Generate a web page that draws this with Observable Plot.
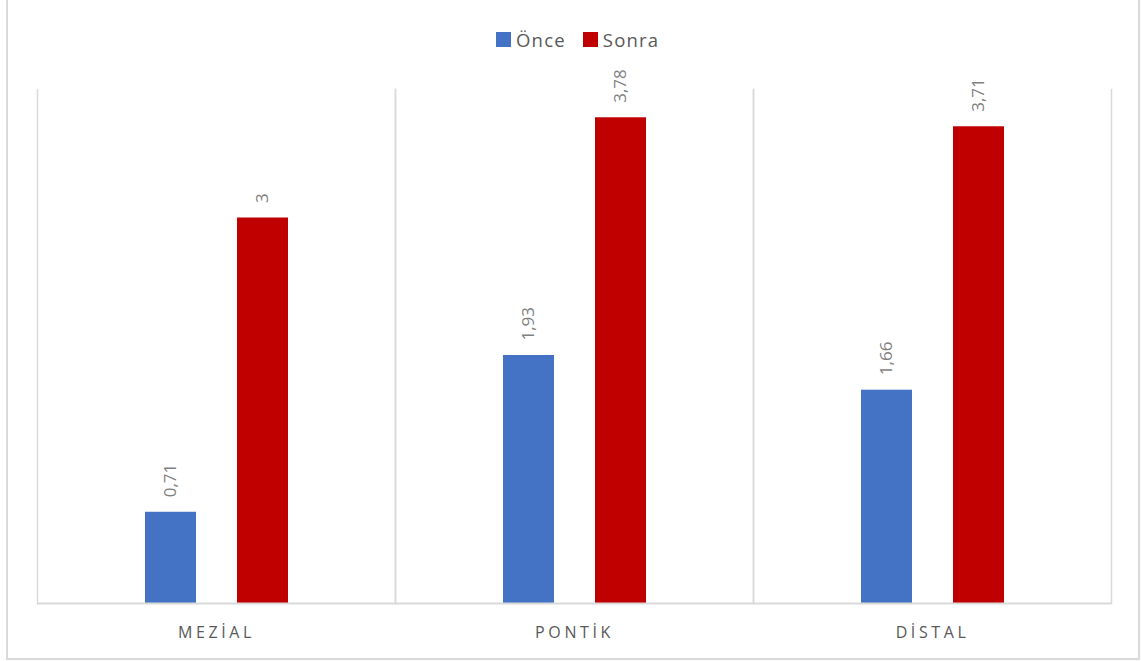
<!DOCTYPE html>
<html><head><meta charset="utf-8">
<script src="https://cdn.jsdelivr.net/npm/d3@7"></script>
<script src="https://cdn.jsdelivr.net/npm/@observablehq/plot@0.6"></script>
<style>
body{margin:0;background:#fff;font-family:"Open Sans",sans-serif;}
#wrap{position:relative;width:1141px;height:661px;overflow:hidden;background:#fff;}
#border{position:absolute;left:6px;top:-2px;width:1134px;height:662px;border:2px solid #d9d9d9;box-sizing:border-box;}
#legend{position:absolute;left:496px;top:28px;height:23px;display:flex;align-items:center;font-size:18.5px;line-height:23px;letter-spacing:1.2px;color:#595959;font-family:"Open Sans",sans-serif;}
#legend .it{display:flex;align-items:center;margin-right:17px;}
#legend .sw{width:15px;height:15px;margin-right:5px;}
#chart{position:absolute;left:0;top:0;}
#chart [aria-label^="fx-axis"] text{font-size:16px;letter-spacing:3.6px;fill:#595959;font-family:"Open Sans",sans-serif;}
</style></head>
<body>
<div id="wrap"><div id="border"></div><div id="legend"></div><div id="chart"></div></div>
<script>
const categories = ["MEZİAL", "PONTİK", "DİSTAL"];
const series = ["Önce", "Sonra"];
const onceValues = [0.71, 1.93, 1.66];
const sonraValues = [3, 3.78, 3.71];
const colors = ["#4472C4", "#C00000"];

const data = [];
categories.forEach((c, i) => {
  data.push({cat: c, series: series[0], value: onceValues[i]});
  data.push({cat: c, series: series[1], value: sonraValues[i]});
});

const legend = document.getElementById("legend");
series.forEach((s, i) => {
  const it = document.createElement("div"); it.className = "it";
  const sw = document.createElement("div"); sw.className = "sw"; sw.style.background = colors[i];
  const t = document.createElement("span"); t.textContent = s;
  it.appendChild(sw); it.appendChild(t); legend.appendChild(it);
});

const plot = Plot.plot({
  width: 1141, height: 661,
  marginTop: 89, marginBottom: 58, marginLeft: 36, marginRight: 30,
  style: {background: "transparent", fontFamily: "'Open Sans', sans-serif"},
  fx: {domain: categories, paddingInner: 0, paddingOuter: 0, axis: "bottom", label: null, tickSize: 0, tickPadding: 23},
  x: {domain: series, paddingInner: 0.449, paddingOuter: 1.165, axis: null},
  y: {domain: [0, 4], axis: null},
  color: {domain: series, range: colors},
  marks: [
    Plot.frame({anchor: "left", stroke: "#d9d9d9", strokeWidth: 1.5}),
    Plot.frame({anchor: "right", stroke: "#d9d9d9", strokeWidth: 1.5}),
    Plot.barY(data, {fx: "cat", x: "series", y: "value", fill: "series"}),
    Plot.ruleY([0], {stroke: "#d9d9d9", strokeWidth: 2}),
    Plot.text(data, {fx: "cat", x: "series", y: "value", text: d => String(d.value).replace(".", ","),
      rotate: -90, textAnchor: "start", dy: -15, fill: "#7f7f7f", fontSize: 17,
      fontFamily: "'Open Sans', sans-serif", style: "letter-spacing:0.8px"})
  ]
});
document.getElementById("chart").appendChild(plot);
</script>
</body></html>
